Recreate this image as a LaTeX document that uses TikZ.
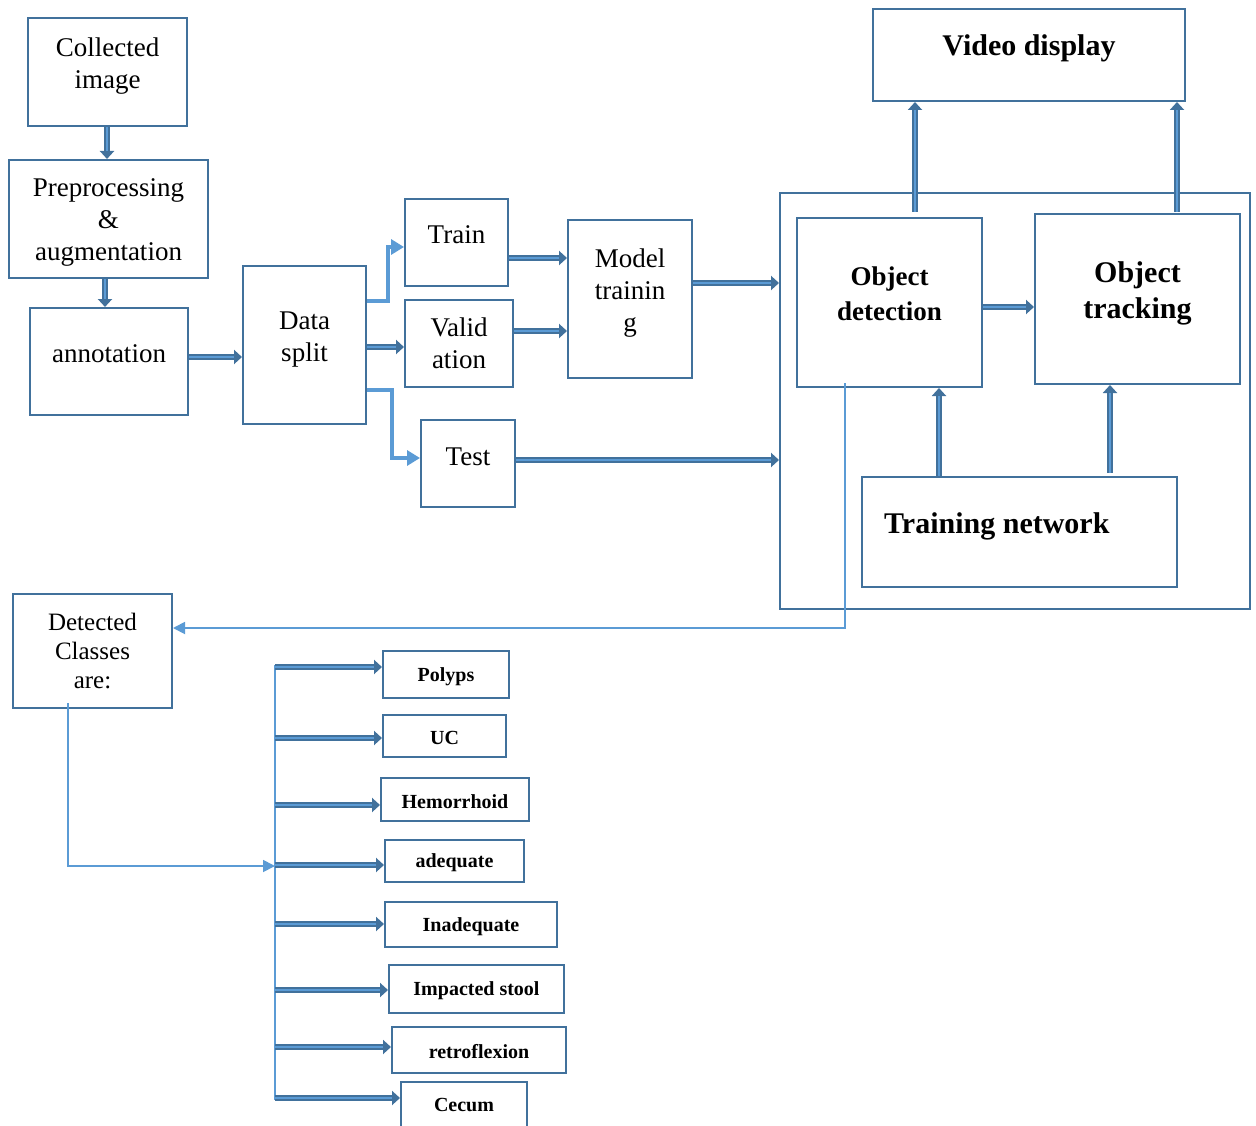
\documentclass[tikz,border=0pt]{standalone}
\usepackage{fontspec}
\setmainfont{Liberation Serif}
\usetikzlibrary{arrows.meta}
\definecolor{dk}{HTML}{41719C}
\definecolor{lt}{HTML}{5B9BD5}
\newcommand\mybox[7][]{%
  \node[box,minimum width={(#4-#2)*1pt},minimum height={(#5-#3)*1pt}]
    (#6) at ({(#2+#4)/2},{(#3+#5)/2}) {};
  \node[txt,#1] (#6t) at (#6.center) {#7};}
\begin{document}
\begin{tikzpicture}[x=1pt,y=-1pt,
  box/.style={draw=dk,line width=2pt,inner sep=0pt},
  txt/.style={inner sep=0pt,align=center,font=\fontsize{27}{32}\selectfont},
  bigb/.style={font=\fontsize{27}{35}\selectfont\bfseries},
  bigc/.style={font=\fontsize{30}{36}\selectfont\bfseries},
  mid/.style={font=\fontsize{25}{29}\selectfont},
  cls/.style={font=\fontsize{20}{24}\selectfont\bfseries},
  blk/.style={draw=dk,line width=6pt,-{Triangle[length=8pt,width=14pt]},
    postaction={draw=lt,line width=2.5pt,-,shorten >=8pt}},
  lta/.style={draw=lt,line width=3.5pt,-{Triangle[length=13pt,width=15pt]}},
  thn/.style={draw=lt,line width=1.8pt,-{Triangle[length=12pt,width=12pt]}}]
\useasboundingbox (0,0) rectangle (1256,1126);

% left column
\mybox[yshift=6pt]{28}{18}{187}{126}{ci}{Collected\\image}
\mybox[yshift=-3pt]{9}{160}{208}{278}{pp}{Preprocessing\\\&\\augmentation}
\mybox[yshift=8pt]{30}{308}{188}{415}{an}{annotation}
\mybox[yshift=5pt]{243}{266}{366}{424}{ds}{Data\\split}
\mybox[yshift=8pt]{405}{199}{508}{286}{tr}{Train}
\mybox{405}{300}{513}{387}{va}{Valid\\ation}
\mybox[yshift=7pt]{421}{420}{515}{507}{te}{Test}
\mybox[yshift=6pt]{568}{220}{692}{378}{mt}{Model\\trainin\\g}

% right part
\mybox{780}{193}{1250}{609}{cont}{}
\mybox[bigb,yshift=9pt]{797}{218}{982}{387}{od}{Object\\detection}
\mybox[bigc,yshift=6pt]{1035}{214}{1240}{384}{ot}{Object\\tracking}
\mybox{862}{477}{1177}{587}{tn}{}
\node[bigc,anchor=west,inner sep=0pt] (tnt) at (884,526) {Training network};
\mybox[bigc,yshift=7pt]{873}{9}{1185}{101}{vd}{Video display}

% classes
\mybox[mid]{13}{594}{172}{708}{dc}{Detected\\Classes\\are:}
\mybox[cls,yshift=-2pt]{383}{651}{509}{698}{c1}{Polyps}
\mybox[cls,yshift=-2pt]{383}{715}{506}{757}{c2}{UC}
\mybox[cls,yshift=-2pt]{381}{778}{529}{821}{c3}{Hemorrhoid}
\mybox[cls,yshift=-2pt]{385}{840}{524}{882}{c4}{adequate}
\mybox[cls,yshift=-2pt]{385}{902}{557}{947}{c5}{Inadequate}
\mybox[cls,yshift=-2pt]{389}{965}{564}{1013}{c6}{Impacted stool}
\mybox[cls,yshift=-2pt]{392}{1027}{566}{1073}{c7}{retroflexion}
\mybox[cls]{401}{1082}{527}{1127}{c8}{Cecum}

% block arrows, left chain
\draw[blk] (ci.south -| 107,0) -- (pp.north -| 107,0);
\draw[blk] (pp.south -| 105,0) -- (an.north -| 105,0);
\draw[blk] (an.east |- 0,357) -- (ds.west |- 0,357);
\draw[blk] (ds.east |- 0,347) -- (va.west |- 0,347);
\draw[blk] (tr.east |- 0,258) -- (mt.west |- 0,258);
\draw[blk] (va.east |- 0,331) -- (mt.west |- 0,331);
\draw[blk] (mt.east |- 0,283) -- (cont.west |- 0,283);
\draw[blk] (te.east |- 0,460) -- (cont.west |- 0,460);

% light elbow arrows
\draw[lta] (ds.east |- 0,301) -| (388,247) -- (tr.west |- 0,247);
\draw[lta] (ds.east |- 0,390) -| (392,458) -- (te.west |- 0,458);

% right block arrows
\draw[blk] (od.east |- 0,307) -- (ot.west |- 0,307);
\coordinate (v1) at (915,212);
\coordinate (v2) at (1177,212);
\draw[blk] (v1) -- (vd.south -| v1);
\draw[blk] (v2) -- (vd.south -| v2);
\draw[blk] (tn.north -| 939,0) -- (od.south -| 939,0);
\coordinate (t2) at (1110,473);
\draw[blk] (t2) -- (ot.south -| t2);

% thin feedback line
\coordinate (f1) at (845,383);
\draw[thn] (f1) |- (dc.east |- 0,628);
\coordinate (f2) at (68,703);
\coordinate (bus) at (275,866);
\draw[thn] (f2) |- (bus);
\draw[lt,line width=1.5pt] (275,665) -- (275,1100);

% class arrows
\draw[blk] (275,667) -- (c1.west |- 0,667);
\draw[blk] (275,738) -- (c2.west |- 0,738);
\draw[blk] (275,805) -- (c3.west |- 0,805);
\draw[blk] (275,865) -- (c4.west |- 0,865);
\draw[blk] (275,924) -- (c5.west |- 0,924);
\draw[blk] (275,990) -- (c6.west |- 0,990);
\draw[blk] (275,1047) -- (c7.west |- 0,1047);
\draw[blk] (275,1098) -- (c8.west |- 0,1098);
\end{tikzpicture}
\end{document}
